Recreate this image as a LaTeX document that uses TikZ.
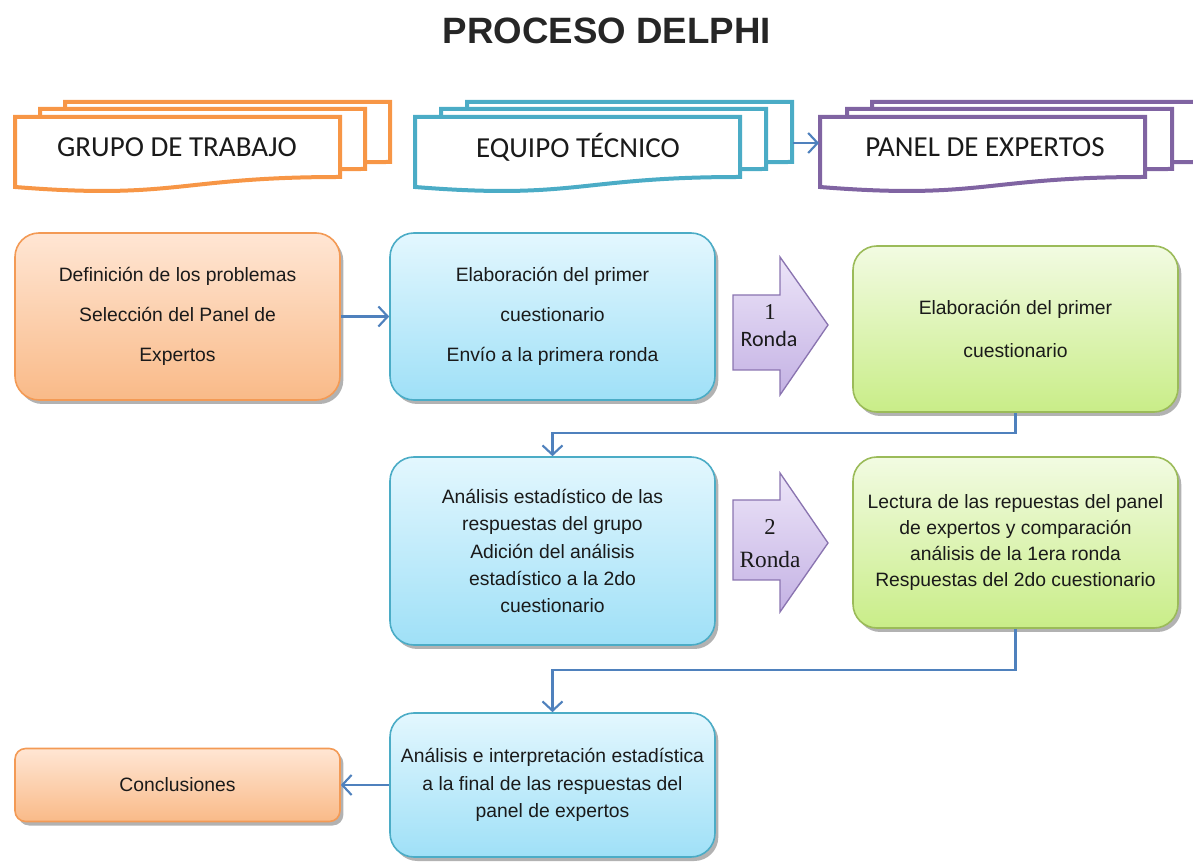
\documentclass[tikz,border=0pt]{standalone}
\usepackage{fontspec}
\setmainfont{Liberation Sans}
\newfontfamily\carl{Carlito}
\newfontfamily\tms{Liberation Serif}
\usetikzlibrary{arrows.meta,shadows,calc}
\definecolor{orTop}{HTML}{FFE6D4}
\definecolor{orBot}{HTML}{F9BA88}
\definecolor{orBrd}{HTML}{F39A55}
\definecolor{blTop}{HTML}{E3F7FE}
\definecolor{blBot}{HTML}{9FE0F7}
\definecolor{blBrd}{HTML}{4BACC6}
\definecolor{grTop}{HTML}{F2FBE2}
\definecolor{grBot}{HTML}{C9ED88}
\definecolor{grBrd}{HTML}{9BBB59}
\definecolor{hOr}{HTML}{F79646}
\definecolor{hTe}{HTML}{4BACC6}
\definecolor{hPu}{HTML}{8064A2}
\definecolor{connC}{HTML}{4F81BD}
\definecolor{lavTop}{HTML}{ECE4F8}
\definecolor{lavBot}{HTML}{C4B2E4}
\definecolor{lavBrd}{HTML}{8A74B0}
\definecolor{txt}{HTML}{1A1A1A}
\newcommand{\docshape}[3]{%
  \filldraw[fill=white, draw=#3, line width=3pt, shift={(#1,#2)}]
    (0,0) -- (325,0) -- (325,60) .. controls (162.5,60) and (162.5,83) .. (0,70) -- cycle;}
\begin{document}
\begin{tikzpicture}[x=0.75pt,y=-0.75pt,
  box/.style={rounded corners=18pt, minimum width=243.75pt, align=center,
    inner sep=2pt, line width=1.2pt, text=txt,
    font=\fontsize{14.5}{20.6}\selectfont,
    drop shadow={shadow xshift=2.5pt, shadow yshift=-3pt, opacity=0.55, fill=black!55}},
  orbox/.style={box, draw=orBrd, top color=orTop, bottom color=orBot},
  blbox/.style={box, draw=blBrd, top color=blTop, bottom color=blBot},
  grbox/.style={box, draw=grBrd, top color=grTop, bottom color=grBot},
  hdrtext/.style={font=\carl\fontsize{21.75}{24}\selectfont, text=txt},
  rarrow/.style={draw=lavBrd, line width=1pt, top color=lavTop, bottom color=lavBot},
  conn/.style={draw=connC, line width=1.6pt, -{Straight Barb[length=7pt,width=15pt]}},
]
\useasboundingbox (0,0) rectangle (1193,862);
\clip (0,0) rectangle (1193,862);

% title
\node[font=\bfseries\fontsize{27.5}{30}\selectfont, text=black!85] (title) at (607,31) {PROCESO DELPHI};

% header document shapes
\docshape{65}{102}{hOr}
\docshape{40}{109}{hOr}
\docshape{15}{117}{hOr}
\docshape{467}{102}{hTe}
\docshape{441}{109}{hTe}
\docshape{415}{117}{hTe}
\docshape{872}{102}{hPu}
\docshape{847}{109}{hPu}
\docshape{820}{117}{hPu}
\node[hdrtext] (grupo) at (177,147) {GRUPO DE TRABAJO};
\node[hdrtext] (equipo) at (578,147) {EQUIPO TÉCNICO};
\node[hdrtext] (panel) at (985,147) {PANEL DE EXPERTOS};
\coordinate (eqend) at (793,143);
\coordinate (panstart) at (819,143);
\draw[conn] (eqend) -- (panstart);

% boxes
\node[orbox, minimum height=125.25pt, font=\fontsize{14.5}{30}\selectfont] (def) at (177.5,316.5)
  {Definición de los problemas\\Selección del Panel de\\Expertos};
\node[blbox, minimum height=125.25pt, font=\fontsize{14.5}{30}\selectfont] (elab1) at (552.5,316.5)
  {Elaboración del primer\\cuestionario\\Envío a la primera ronda};
\node[grbox, minimum height=124.5pt, font=\fontsize{14.5}{32}\selectfont] (green1) at (1015.5,329)
  {Elaboración del primer\\cuestionario};
\node[blbox, minimum height=141pt] (ana) at (552.5,551)
  {Análisis estadístico de las\\respuestas del grupo\\Adición del análisis\\estadístico a la 2do\\cuestionario};
\node[grbox, minimum height=128.25pt, font=\fontsize{14.5}{19.5}\selectfont] (green2) at (1015.5,542.5)
  {Lectura de las repuestas del panel\\de expertos y comparación\\análisis de la 1era ronda\\Respuestas del 2do cuestionario};
\node[blbox, minimum height=108pt] (final) at (552.5,785)
  {Análisis e interpretación estadística\\a la final de las respuestas del\\panel de expertos};
\node[orbox, rounded corners=8pt, minimum height=54.75pt] (concl) at (177.5,785) {Conclusiones};

% round arrows
\draw[rarrow] (733,295) -- (780,295) -- (780,257) -- (828,325) -- (780,395) -- (780,370) -- (733,370) -- cycle;
\node[font=\tms\fontsize{17}{17}\selectfont, text=txt] (r1n) at (770,312) {1};
\node[font=\carl\fontsize{16.5}{17}\selectfont, text=txt] (r1t) at (769,339) {Ronda};
\draw[rarrow] (733,500) -- (780,500) -- (780,473) -- (828,543) -- (780,612) -- (780,580) -- (733,580) -- cycle;
\node[font=\tms\fontsize{17}{17}\selectfont, text=txt] (r2n) at (770,527) {2};
\node[font=\tms\fontsize{17.5}{17}\selectfont, text=txt] (r2t) at (770,560) {Ronda};

% connectors
\draw[conn] (def.east) -- (elab1.west);
\coordinate (j1) at (552.5,433);
\draw[conn] (green1.south) |- (j1) -- (ana.north);
\coordinate (j2) at (552.5,670);
\draw[conn] (green2.south) |- (j2) -- (final.north);
\draw[conn] (final.west) -- (concl.east);
\end{tikzpicture}
\end{document}
